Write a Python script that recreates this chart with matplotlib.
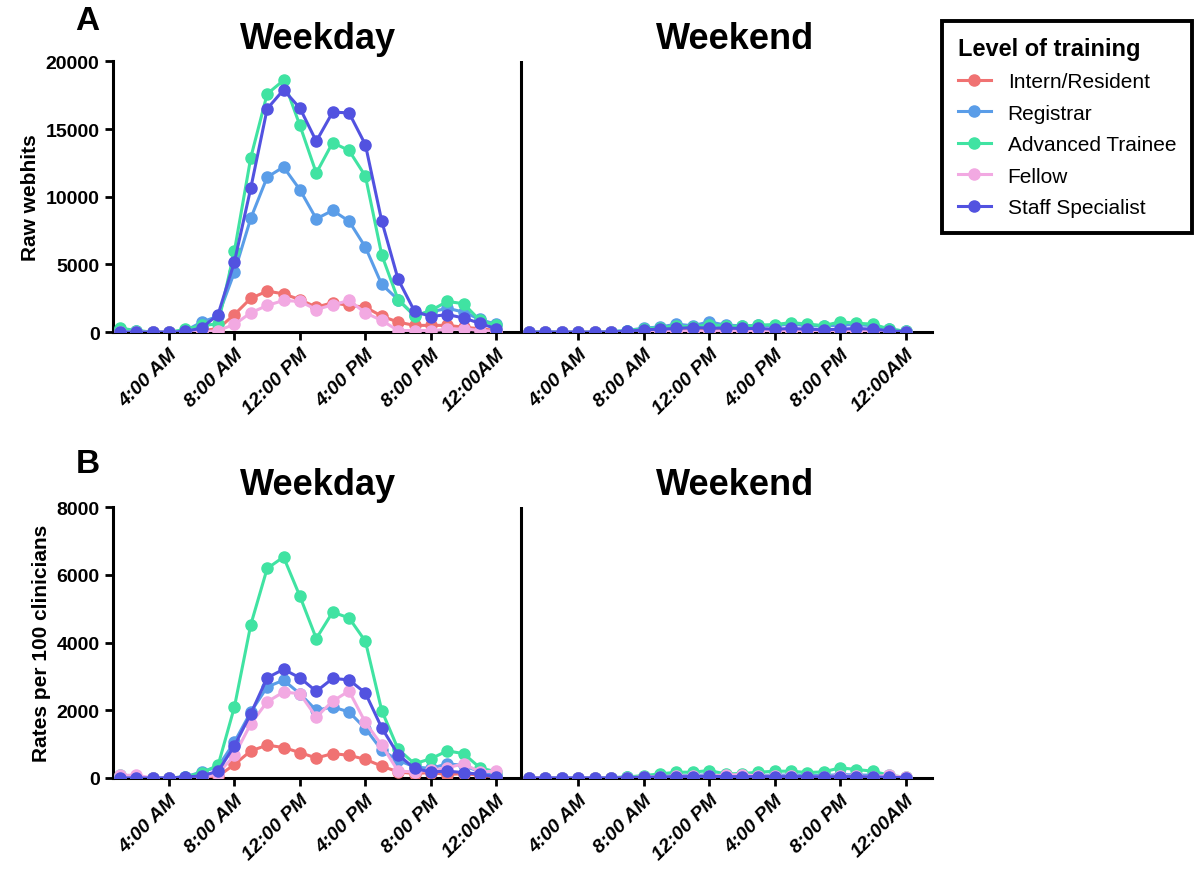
import matplotlib.pyplot as plt
from matplotlib.lines import Line2D

plt.rcParams['font.family'] = ['Liberation Sans', 'DejaVu Sans']

hours = list(range(1, 25))
weekend_pos = [h + 25 for h in hours]

levels = ["Intern/Resident", "Registrar", "Advanced Trainee", "Fellow", "Staff Specialist"]
colors = ["#F07272", "#5A9DE8", "#40E3A2", "#F2A9E2", "#5252E0"]

# Panel A - raw webhits, weekday
raw_wd = {
    "Intern/Resident": [30, 0, 0, 0, 0, 120, 250, 1300, 2500, 3030, 2830, 2400,
                        1850, 2170, 1970, 1850, 1180, 740, 500, 500, 500, 370, 250, 120],
    "Registrar": [200, 100, 0, 0, 100, 740, 1180, 4430, 8420, 11450, 12200, 10520,
                  8370, 8990, 8200, 6280, 3520, 2400, 1230, 1480, 1770, 1480, 940, 570],
    "Advanced Trainee": [300, 120, 0, 0, 200, 500, 600, 6000, 12900, 17600, 18600, 15270,
                         11750, 14000, 13420, 11530, 5700, 2400, 1200, 1600, 2270, 2100, 860, 500],
    "Fellow": [0, 0, 0, 0, 0, 0, 120, 570, 1430, 1970, 2340, 2270,
               1670, 2020, 2340, 1430, 860, 120, 120, 120, 200, 250, 120, 50],
    "Staff Specialist": [0, 0, 0, 0, 50, 300, 1300, 5200, 10650, 16500, 17900, 16550,
                         14100, 16250, 16200, 13850, 8200, 3900, 1550, 1150, 1300, 1050, 650, 250],
}
# Panel A - raw webhits, weekend
raw_we = {
    "Intern/Resident": [20, 10, 0, 0, 0, 20, 40, 60, 80, 100, 120, 110,
                        100, 110, 100, 90, 100, 90, 80, 100, 110, 90, 60, 20],
    "Registrar": [30, 20, 10, 0, 10, 40, 120, 300, 380, 590, 470, 760,
                  520, 470, 500, 470, 600, 470, 450, 520, 560, 470, 220, 60],
    "Advanced Trainee": [30, 20, 10, 0, 10, 40, 100, 250, 330, 450, 380, 560,
                         450, 420, 520, 560, 700, 600, 480, 760, 660, 590, 230, 70],
    "Fellow": [0, 0, 0, 0, 0, 0, 10, 30, 40, 60, 50, 60,
               40, 50, 40, 30, 40, 30, 30, 50, 40, 30, 20, 0],
    "Staff Specialist": [0, 0, 0, 0, 0, 20, 60, 170, 220, 270, 340, 300,
                         300, 270, 270, 220, 270, 220, 170, 220, 270, 220, 100, 25],
}
# Panel B - rates per 100 clinicians, weekday
rate_wd = {
    "Intern/Resident": [10, 0, 0, 0, 0, 0, 50, 400, 800, 970, 900, 750,
                        590, 720, 670, 550, 350, 180, 130, 160, 100, 130, 80, 30],
    "Registrar": [20, 10, 0, 0, 30, 180, 330, 1060, 1950, 2690, 2890, 2490,
                  2000, 2100, 1950, 1460, 820, 520, 330, 280, 420, 370, 180, 80],
    "Advanced Trainee": [80, 30, 0, 0, 30, 160, 370, 2100, 4530, 6190, 6530, 5370,
                         4120, 4900, 4730, 4040, 1990, 850, 420, 570, 800, 720, 300, 180],
    "Fellow": [80, 80, 0, 0, 0, 0, 130, 670, 1600, 2250, 2540, 2490,
               1800, 2270, 2570, 1640, 970, 200, 180, 230, 300, 420, 180, 200],
    "Staff Specialist": [0, 0, 0, 0, 30, 60, 200, 950, 1900, 2960, 3210, 2960,
                         2560, 2940, 2900, 2510, 1480, 690, 280, 180, 200, 160, 110, 30],
}
# Panel B - rates per 100 clinicians, weekend
rate_we = {
    "Intern/Resident": [0, 0, 0, 0, 0, 0, 10, 20, 30, 40, 40, 40,
                        40, 50, 40, 40, 40, 40, 30, 40, 40, 30, 20, 10],
    "Registrar": [0, 0, 0, 0, 0, 10, 20, 40, 60, 80, 70, 100,
                  60, 70, 80, 80, 90, 80, 70, 100, 90, 80, 40, 10],
    "Advanced Trainee": [0, 0, 0, 0, 0, 10, 30, 70, 120, 170, 170, 220,
                         120, 130, 170, 200, 200, 160, 180, 300, 250, 200, 80, 20],
    "Fellow": [10, 0, 0, 0, 0, 0, 10, 30, 40, 60, 50, 60,
               90, 100, 60, 50, 50, 40, 40, 60, 50, 40, 80, 20],
    "Staff Specialist": [0, 0, 0, 0, 0, 0, 10, 20, 30, 40, 40, 50,
                         40, 40, 40, 40, 40, 40, 30, 40, 40, 30, 20, 10],
}

tick_pos = [4, 8, 12, 16, 20, 24, 29, 33, 37, 41, 45, 49]
tick_lab = ["4:00 AM", "8:00 AM", "12:00 PM", "4:00 PM", "8:00 PM", "12:00AM"] * 2

fig = plt.figure(figsize=(12, 8.79), dpi=100)
ax_a = fig.add_axes([0.094, 0.621, 0.6825, 0.308])
ax_b = fig.add_axes([0.094, 0.1138, 0.6825, 0.308])


def draw_panel(ax, wd, we, ymax, ystep, ylabel):
    for name, c in zip(levels, colors):
        ax.plot(hours, wd[name], color=c, marker="o", markersize=8, lw=2.2, zorder=3)
        ax.plot(weekend_pos, we[name], color=c, marker="o", markersize=8, lw=2.2, zorder=3)
    ax.axvline(25.5, color="black", lw=2.2, zorder=4)
    ax.set_xlim(0.57, 50.6)
    ax.set_ylim(0, ymax)
    ax.set_yticks(range(0, ymax + 1, ystep))
    ax.set_xticks(tick_pos)
    ax.set_xticklabels(tick_lab, rotation=45, ha="right", rotation_mode="anchor",
                       fontsize=14, fontweight="bold", fontstyle="italic")
    for lab in ax.get_yticklabels():
        lab.set_fontsize(14)
        lab.set_fontweight("bold")
    ax.spines["top"].set_visible(False)
    ax.spines["right"].set_visible(False)
    ax.spines["left"].set_linewidth(2.2)
    ax.spines["bottom"].set_linewidth(2.2)
    ax.tick_params(axis="both", width=2, length=6)
    ax.set_ylabel(ylabel, fontsize=15, fontweight="bold")
    ax.text(0.25, 1.02, "Weekday", transform=ax.transAxes, ha="center", va="bottom",
            fontsize=26, fontweight="bold")
    ax.text(0.76, 1.02, "Weekend", transform=ax.transAxes, ha="center", va="bottom",
            fontsize=26, fontweight="bold")


draw_panel(ax_a, raw_wd, raw_we, 20000, 5000, "Raw webhits")
draw_panel(ax_b, rate_wd, rate_we, 8000, 2000, "Rates per 100 clinicians")

fig.text(0.073, 0.975, "A", fontsize=24, fontweight="bold", ha="center", va="center")
fig.text(0.073, 0.471, "B", fontsize=24, fontweight="bold", ha="center", va="center")

handles = [Line2D([0], [0], color=c, marker="o", markersize=8, lw=2.2) for c in colors]
leg = fig.legend(handles, levels, title="Level of training", loc="upper left",
                 bbox_to_anchor=(0.785, 0.975), borderaxespad=0, fontsize=15,
                 title_fontsize=17, frameon=True, fancybox=False, edgecolor="black",
                 framealpha=1, handlelength=1.6, handletextpad=0.8,
                 labelspacing=0.6, borderpad=0.75, alignment="left")
leg.get_title().set_fontweight("bold")
leg.get_frame().set_linewidth(2.8)

fig.savefig("out.png", dpi=100)
